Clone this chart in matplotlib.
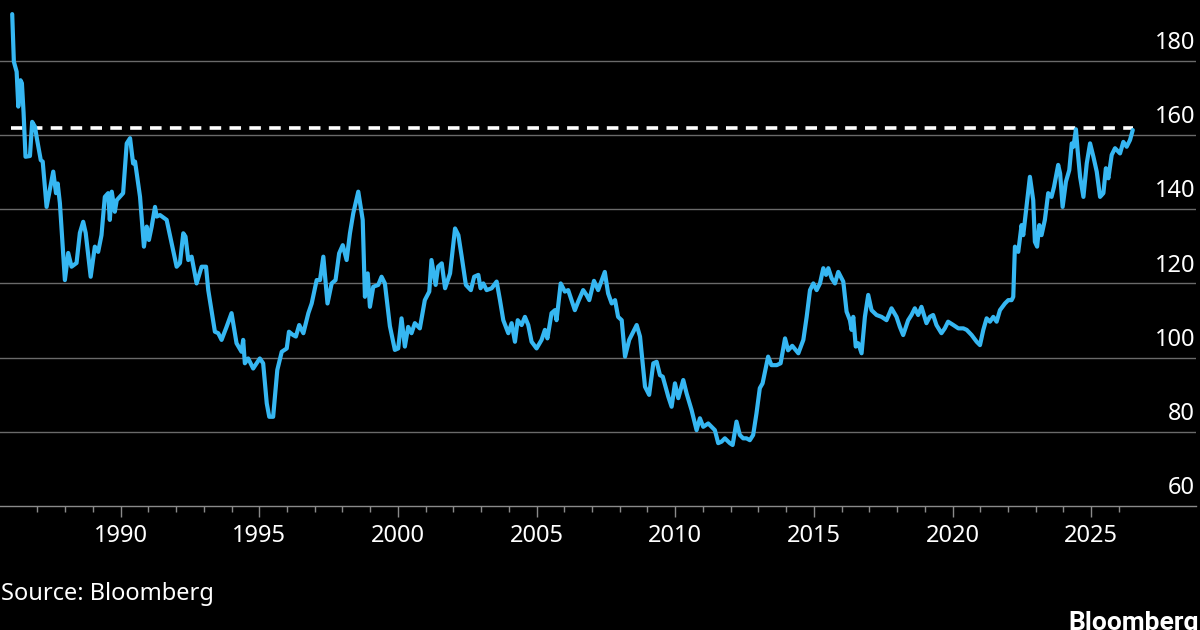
import matplotlib
matplotlib.use("Agg")
import matplotlib.pyplot as plt
import numpy as np

# ---- data (decimal year, USD/JPY) ----
years_a = [1986.09, 1986.15, 1986.25, 1986.31, 1986.39, 1986.44, 1986.50, 1986.57, 1986.73, 1986.81,
           1986.91, 1986.99, 1987.12, 1987.19, 1987.33, 1987.57, 1987.67, 1987.73, 1987.81, 1987.99,
           1988.11, 1988.23, 1988.41, 1988.53, 1988.65, 1988.74, 1988.92, 1989.07, 1989.19, 1989.31,
           1989.43, 1989.55, 1989.61, 1989.68, 1989.79, 1989.86, 1990.09, 1990.22, 1990.34, 1990.45,
           1990.52, 1990.70, 1990.84, 1990.94, 1991.02, 1991.12, 1991.24, 1991.30, 1991.42, 1991.66,
           1991.84, 1992.02, 1992.14, 1992.26, 1992.34, 1992.44, 1992.56, 1992.74]
values_a = [192.5, 179.7, 177.0, 167.6, 174.7, 173.9, 166.0, 154.1, 154.3, 163.5,
            162.2, 158.6, 153.2, 152.8, 140.6, 150.1, 144.3, 146.9, 141.6, 120.9,
            128.2, 124.5, 125.5, 133.6, 136.6, 133.6, 121.8, 129.9, 128.5, 133.0,
            143.3, 144.3, 137.1, 144.7, 139.3, 142.4, 144.3, 157.7, 159.1, 152.3,
            152.8, 143.3, 129.9, 135.3, 131.7, 135.3, 140.6, 138.0, 138.4, 137.1,
            130.8, 124.5, 125.5, 133.5, 132.6, 126.3, 127.2, 120.0]

years_b = [1992.92, 1993.08, 1993.16, 1993.40, 1993.52, 1993.64, 1993.82, 1994.00, 1994.18, 1994.36,
           1994.42, 1994.48, 1994.60, 1994.78, 1995.02, 1995.14, 1995.27, 1995.36, 1995.50, 1995.65,
           1995.81, 1995.99, 1996.07, 1996.22, 1996.32, 1996.44, 1996.59, 1996.77, 1996.89, 1997.07,
           1997.19, 1997.31, 1997.46, 1997.61, 1997.75, 1997.88, 1998.01, 1998.15, 1998.27, 1998.39,
           1998.57, 1998.73, 1998.81, 1998.91, 1998.99, 1999.11, 1999.29, 1999.41, 1999.53, 1999.71,
           1999.89]
values_b = [124.5, 124.5, 118.2, 107.0, 106.6, 104.8, 108.3, 112.0, 103.9, 101.6,
            104.8, 98.5, 99.8, 97.1, 99.8, 98.5, 87.7, 84.1, 84.1, 96.7,
            101.6, 102.5, 107.0, 106.1, 105.7, 108.8, 106.6, 112.0, 114.6, 120.9,
            120.9, 127.2, 114.6, 120.0, 120.9, 128.1, 130.3, 126.3, 133.5, 138.9,
            144.7, 137.1, 116.4, 122.7, 113.7, 119.1, 119.6, 121.8, 120.0, 108.5,
            102.1]

years_c = [2000.01, 2000.13, 2000.25, 2000.37, 2000.49, 2000.61, 2000.79, 2000.97, 2001.13, 2001.21,
           2001.36, 2001.45, 2001.58, 2001.70, 2001.88, 2002.06, 2002.18, 2002.30, 2002.45, 2002.63,
           2002.75, 2002.90, 2002.98, 2003.08, 2003.20, 2003.38, 2003.56, 2003.68, 2003.80, 2003.98,
           2004.10, 2004.22, 2004.32, 2004.46, 2004.58, 2004.70, 2004.82, 2005.00, 2005.18, 2005.30,
           2005.39, 2005.54, 2005.66, 2005.72, 2005.87, 2006.02, 2006.14, 2006.26, 2006.38, 2006.50,
           2006.68, 2006.80, 2006.90]
values_c = [102.5, 110.6, 103.0, 108.3, 106.6, 109.3, 107.9, 115.5, 117.8, 126.3,
            119.6, 124.5, 125.4, 118.7, 122.7, 134.8, 133.0, 127.2, 119.6, 118.2,
            121.8, 122.3, 118.7, 120.0, 118.2, 118.7, 120.5, 115.5, 110.1, 106.6,
            109.3, 104.3, 110.1, 108.8, 111.0, 108.8, 104.3, 102.5, 104.8, 107.5,
            105.2, 112.0, 112.8, 110.1, 120.0, 117.8, 118.2, 115.5, 112.8, 115.1,
            118.2, 116.9, 115.5]

years_d = [2007.07, 2007.22, 2007.46, 2007.58, 2007.71, 2007.83, 2007.94, 2008.07, 2008.19, 2008.34,
           2008.61, 2008.73, 2008.91, 2009.06, 2009.21, 2009.33, 2009.45, 2009.55, 2009.75, 2009.87,
           2009.99, 2010.11, 2010.29, 2010.41, 2010.59, 2010.77, 2010.89, 2011.01, 2011.19, 2011.31,
           2011.43, 2011.55, 2011.67, 2011.79, 2011.97, 2012.07, 2012.21, 2012.33, 2012.45, 2012.57,
           2012.69, 2012.81, 2012.93, 2013.05, 2013.15, 2013.35, 2013.47, 2013.66, 2013.80, 2013.96,
           2014.07]
values_d = [120.7, 118.2, 123.1, 117.3, 114.6, 115.5, 111.0, 110.1, 100.3, 104.8,
            108.8, 105.7, 92.2, 90.0, 98.5, 98.9, 95.3, 94.9, 89.5, 86.8,
            93.1, 89.1, 94.0, 90.4, 85.9, 80.5, 83.7, 81.4, 82.3, 81.4,
            80.5, 77.0, 77.4, 78.3, 77.0, 76.5, 82.8, 79.2, 78.3, 78.3,
            77.8, 79.2, 85.0, 91.8, 93.1, 100.3, 98.0, 98.0, 98.5, 105.2,
            102.0]

years_e = [2014.22, 2014.44, 2014.62, 2014.74, 2014.86, 2014.98, 2015.10, 2015.22, 2015.34, 2015.44,
           2015.52, 2015.64, 2015.76, 2015.88, 2016.06, 2016.18, 2016.30, 2016.36, 2016.42, 2016.51,
           2016.60, 2016.72, 2016.84, 2016.96, 2017.08, 2017.26, 2017.44, 2017.62, 2017.80, 2017.98,
           2018.10, 2018.22, 2018.40, 2018.52, 2018.64, 2018.76, 2018.88, 2019.06, 2019.18, 2019.30,
           2019.42, 2019.60, 2019.72, 2019.84, 2020.03, 2020.21, 2020.39, 2020.51, 2020.69, 2020.87,
           2020.99, 2021.11, 2021.23, 2021.35, 2021.47, 2021.59, 2021.71]
values_e = [103.2, 101.2, 104.8, 111.0, 118.2, 120.0, 118.2, 120.0, 124.1, 122.3,
            124.1, 121.4, 120.0, 123.1, 120.5, 112.4, 110.1, 107.5, 111.0, 103.0,
            103.9, 101.2, 111.0, 116.9, 112.8, 111.5, 111.0, 110.1, 113.3, 111.0,
            108.3, 106.1, 110.1, 111.5, 113.3, 111.5, 113.7, 109.3, 111.0, 111.5,
            108.8, 106.6, 107.9, 109.7, 108.8, 107.9, 107.9, 107.5, 106.1, 104.3,
            103.4, 107.5, 110.6, 109.7, 111.0, 109.7, 112.8]

years_f = [2021.89, 2022.01, 2022.13, 2022.19, 2022.25, 2022.37, 2022.49, 2022.55, 2022.79, 2022.91,
           2022.97, 2023.05, 2023.13, 2023.21, 2023.33, 2023.45, 2023.57, 2023.66, 2023.81, 2023.88,
           2023.97, 2024.09, 2024.21, 2024.30, 2024.36, 2024.45, 2024.51, 2024.60, 2024.72, 2024.84,
           2024.96, 2025.08, 2025.20, 2025.32, 2025.44, 2025.53, 2025.62, 2025.74, 2025.86, 2026.04,
           2026.16, 2026.28, 2026.40, 2026.50]
values_f = [114.6, 115.5, 115.5, 116.4, 129.9, 128.5, 135.7, 133.0, 148.7, 142.4,
            131.2, 129.9, 135.7, 133.0, 137.1, 144.3, 143.3, 146.0, 151.9, 149.6,
            140.6, 147.4, 150.5, 157.7, 156.8, 161.5, 155.9, 148.7, 143.3, 152.3,
            157.7, 154.1, 150.1, 143.3, 144.3, 151.0, 148.3, 154.6, 156.4, 155.0,
            158.1, 156.8, 158.6, 161.3]

reference_level = 161.9
y_ticks = [60, 80, 100, 120, 140, 160, 180]
x_major = [1990, 1995, 2000, 2005, 2010, 2015, 2020, 2025]
x_minor = list(range(1987, 2027))
source_text = "Source: Bloomberg"
brand_text = "Bloomberg"

years = np.array(years_a + years_b + years_c + years_d + years_e + years_f)
values = np.array(values_a + values_b + values_c + values_d + values_e + values_f)

# ---- figure ----
W, H, DPI = 1200, 630, 100
fig = plt.figure(figsize=(W / DPI, H / DPI), dpi=DPI, facecolor="black")
ax = fig.add_axes([0, (H - 506.3) / H, 1196 / W, 506.3 / H], facecolor="black")

font = "Noto Sans"
lab_size = 17

ax.set_xlim(1985.65, 2028.78)
ax.set_ylim(60, 196.3)

for t in y_ticks[1:]:
    ax.axhline(t, color="#6a6a6a", lw=1.0, zorder=1)

ax.hlines(reference_level, years[0] - 0.05, years[-1], colors="white", lw=2.6,
          linestyles=(0, (3.2, 2.3)), zorder=2)
ax.plot(years, values, color="#36b7f2", lw=3.0, solid_joinstyle="round",
        solid_capstyle="round", zorder=3)

for s in ["top", "right", "left"]:
    ax.spines[s].set_visible(False)
ax.spines["bottom"].set_color("#8a8a8a")
ax.spines["bottom"].set_linewidth(1.0)

ax.set_yticks([])
ax.set_xticks(x_major)
ax.set_xticks(x_minor, minor=True)
ax.set_xticklabels([str(x) for x in x_major], fontsize=lab_size, family=font, color="white")
ax.tick_params(axis="x", which="major", length=8, width=1.0, color="#8a8a8a", pad=5)
ax.tick_params(axis="x", which="minor", length=4, width=1.0, color="#8a8a8a")

for t in y_ticks:
    ax.annotate(str(t), xy=(1195 / 1196, t), xycoords=("axes fraction", "data"),
                xytext=(0, 8.5), textcoords="offset points", ha="right", va="baseline",
                fontsize=lab_size, family=font, color="white", zorder=4)

fig.text(1 / W, 1 - 600 / H, source_text, fontsize=lab_size, family=font, color="white",
         ha="left", va="baseline")
fig.text(1068 / W, 1 - 630 / H, brand_text, fontsize=19, family=["Roboto", "DejaVu Sans"],
         weight="bold", color="white", ha="left", va="baseline")

fig.savefig("out.png", dpi=DPI, facecolor="black")
